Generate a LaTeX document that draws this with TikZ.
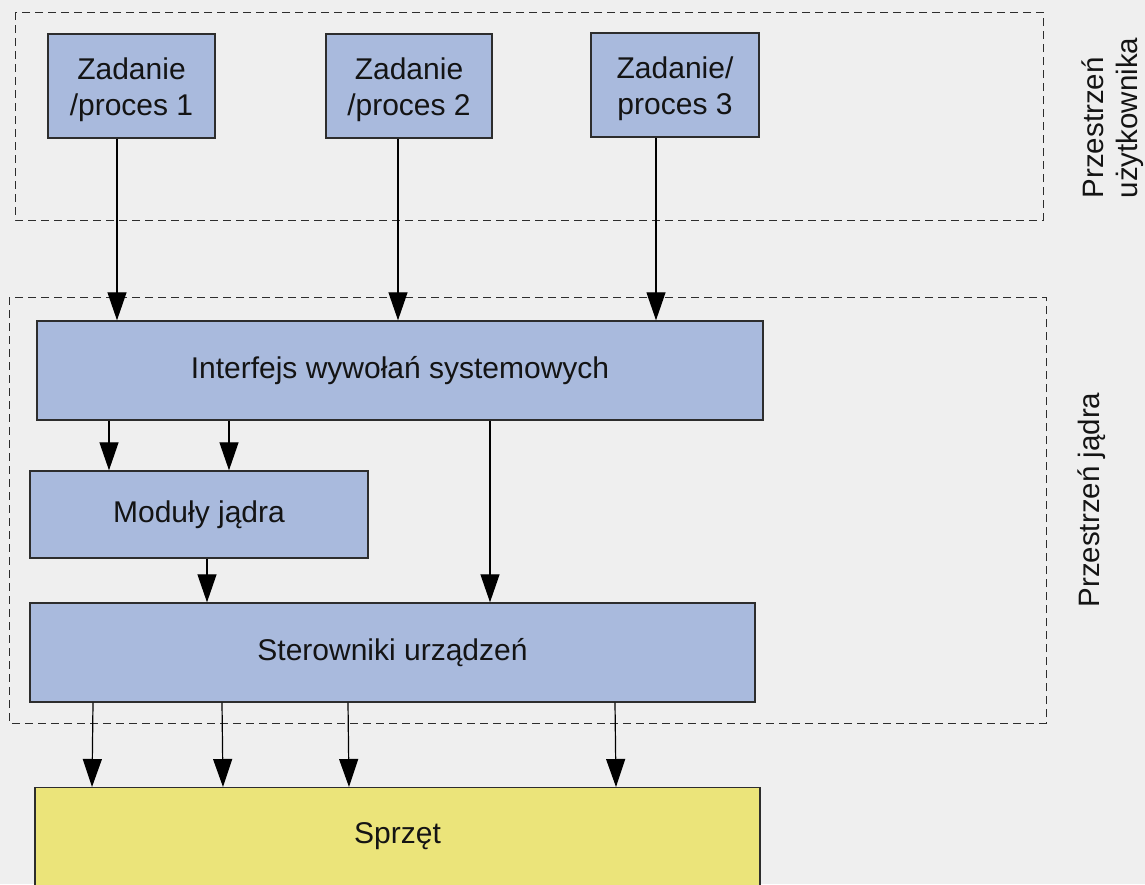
\documentclass[tikz,border=0pt]{standalone}
\usepackage{fontspec}
\setmainfont{Liberation Sans}
\usetikzlibrary{arrows.meta}
\definecolor{bgc}{RGB}{239,239,239}
\definecolor{boxblue}{RGB}{169,186,221}
\definecolor{boxyellow}{RGB}{235,228,122}
\definecolor{edge}{RGB}{45,45,45}
\definecolor{txt}{RGB}{20,20,20}
\newcommand{\lowstrut}{\rule{0pt}{30pt}}
\tikzset{
  box/.style={draw=edge, line width=1.4pt, fill=boxblue, inner sep=0pt, align=center,
    text=txt, font=\fontsize{30}{36}\selectfont},
  region/.style={draw=edge, line width=0.9pt, dash pattern=on 8pt off 5pt},
  arr/.style={draw=black, line width=1.2pt, -{Triangle[length=28pt,width=19pt]}},
  side/.style={rotate=90, align=left, text=txt, font=\fontsize{29.5}{34}\selectfont, inner sep=0pt}
}
\begin{document}
\begin{tikzpicture}[x=1pt,y=-1pt]
\fill[bgc] (0,0) rectangle (1145,884);
\useasboundingbox (0,0) rectangle (1145,884);
% regions
\draw[region] (15,12) rectangle (1043,220);
\draw[region] (9,297) rectangle (1046,723);
% user processes
\node[box, minimum width=167pt, minimum height=104pt] (p1) at (131.5,86) {\lowstrut Zadanie\\/proces 1};
\node[box, minimum width=166pt, minimum height=104pt] (p2) at (409,86) {\lowstrut Zadanie\\/proces 2};
\node[box, minimum width=168pt, minimum height=104pt] (p3) at (675,85) {\lowstrut Zadanie/\\proces 3};
% kernel
\node[box, minimum width=726pt, minimum height=99pt] (iface) at (400,370.5) {Interfejs wywołań systemowych};
\node[box, minimum width=338pt, minimum height=87pt] (mod) at (199,514.5) {Moduły jądra};
\node[box, minimum width=725pt, minimum height=99pt] (drv) at (392.5,652.5) {Sterowniki urządzeń};
% hardware
\node[box, fill=boxyellow, anchor=north, minimum width=725pt, text height=56pt, text depth=70pt] (hw) at (397.5,787) {Sprzęt};
% side labels
\node[side] (ulab) at (1113,118) {Przestrzeń\\użytkownika};
\node[side] (klab) at (1092,500) {Przestrzeń jądra};
% arrows: processes -> interface
\draw[arr] ([xshift=-14.5pt]p1.south) -- ([xshift=-14.5pt]p1.south |- iface.north);
\draw[arr] ([xshift=-11pt]p2.south) -- ([xshift=-11pt]p2.south |- iface.north);
\draw[arr] ([xshift=-19pt]p3.south) -- ([xshift=-19pt]p3.south |- iface.north);
% interface -> modules
\draw[arr] ([xshift=-90pt]mod.north |- iface.south) -- ([xshift=-90pt]mod.north);
\draw[arr] ([xshift=30pt]mod.north |- iface.south) -- ([xshift=30pt]mod.north);
% interface -> drivers
\draw[arr] ([xshift=97.5pt]drv.north |- iface.south) -- ([xshift=97.5pt]drv.north);
% modules -> drivers
\draw[arr] ([xshift=8pt]mod.south) -- ([xshift=8pt]mod.south |- drv.north);
% drivers -> hardware
\draw[arr] ([xshift=-299.5pt]drv.south) -- ([xshift=-305.5pt]hw.north);
\draw[arr] ([xshift=-170.5pt]drv.south) -- ([xshift=-174.5pt]hw.north);
\draw[arr] ([xshift=-44.5pt]drv.south) -- ([xshift=-48.5pt]hw.north);
\draw[arr] ([xshift=222.5pt]drv.south) -- ([xshift=218.5pt]hw.north);
\end{tikzpicture}
\end{document}
